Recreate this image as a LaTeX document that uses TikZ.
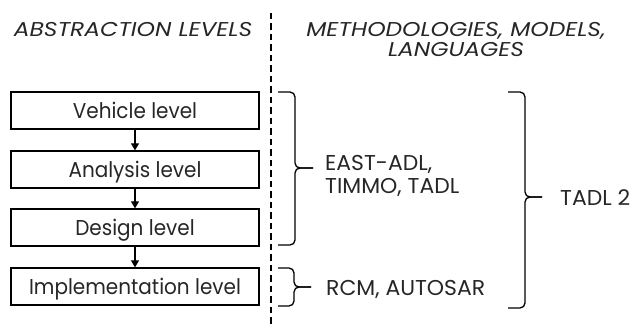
\documentclass[tikz,border=0pt]{standalone}
\usepackage{fontspec}
\setmainfont{Poppins}
\newfontfamily\boxfont[FakeStretch=0.93]{Poppins}
\newfontfamily\capsfont[FakeStretch=1.02]{Poppins}
\newfontfamily\hdrfont[FakeStretch=1.17]{Poppins}
\usetikzlibrary{arrows.meta}
\definecolor{txt}{HTML}{262626}
\tikzset{
  lvl/.style={draw=black, line width=1.3pt, minimum width=248pt, minimum height=37pt, inner sep=0pt, text=txt, text height=16pt, text depth=0pt, font=\fontsize{21.5}{22}\selectfont\boxfont},
  lab/.style={text=txt, font=\fontsize{21.5}{22}\selectfont\capsfont, inner sep=0pt, anchor=base west},
  hdr/.style={text=txt, font=\fontsize{20}{20}\selectfont\hdrfont\itshape, inner sep=0pt, anchor=base},
  arr/.style={line width=1.3pt, -{Triangle[length=7pt,width=8pt]}},
  brc/.style={line width=1.3pt, rounded corners=5pt},
}
\begin{document}
\begin{tikzpicture}[x=1pt,y=1pt]
\useasboundingbox (0,0) rectangle (634,-328);
\node[hdr] (h1) at (133,-37) {ABSTRACTION LEVELS};
\node[hdr] (h2a) at (456,-37) {METHODOLOGIES, MODELS,};
\node[hdr] (h2b) at (456,-57) {LANGUAGES};
\coordinate (dtop) at (271,-13);
\coordinate (dbot) at (271,-328);
\draw[line width=1.2pt, dash pattern=on 6.5pt off 4pt] (dtop) -- (dbot);
\node[lvl] (v) at (135,-110.5) {Vehicle level};
\node[lvl] (a) at (135,-169.5) {Analysis level};
\node[lvl] (d) at (135,-227.5) {Design level};
\node[lvl] (i) at (135,-286.5) {Implementation level};
\draw[arr] (v) -- (a);
\draw[arr] (a) -- (d);
\draw[arr] (d) -- (i);
% brace 1
\coordinate (b1t) at (278,-92);
\coordinate (b1b) at (278,-245);
\coordinate (b1m) at (295,-168);
\coordinate (b1p) at (313,-168);
\draw[brc] (b1t) -- (b1t -| b1m) -- (b1m) -- (b1p);
\draw[brc] (b1b) -- (b1b -| b1m) -- (b1m) -- (b1p);
\node[lab] (l1a) at (325,-171) {EAST-ADL,};
\node[lab] (l1b) at (325,-193.5) {TIMMO, TADL};
% brace 2
\coordinate (b2t) at (278,-268);
\coordinate (b2b) at (278,-306);
\coordinate (b2m) at (294,-287);
\coordinate (b2p) at (311,-287);
\draw[brc] (b2t) -- (b2t -| b2m) -- (b2m) -- (b2p);
\draw[brc] (b2b) -- (b2b -| b2m) -- (b2m) -- (b2p);
\node[lab] (l2) at (326,-296) {RCM, AUTOSAR};
% big brace
\coordinate (b3t) at (508,-92);
\coordinate (b3b) at (508,-308);
\coordinate (b3m) at (525,-197);
\coordinate (b3p) at (542,-197);
\draw[brc] (b3t) -- (b3t -| b3m) -- (b3m) -- (b3p);
\draw[brc] (b3b) -- (b3b -| b3m) -- (b3m) -- (b3p);
\node[lab] (l3) at (560,-206) {TADL 2};
\end{tikzpicture}
\end{document}
